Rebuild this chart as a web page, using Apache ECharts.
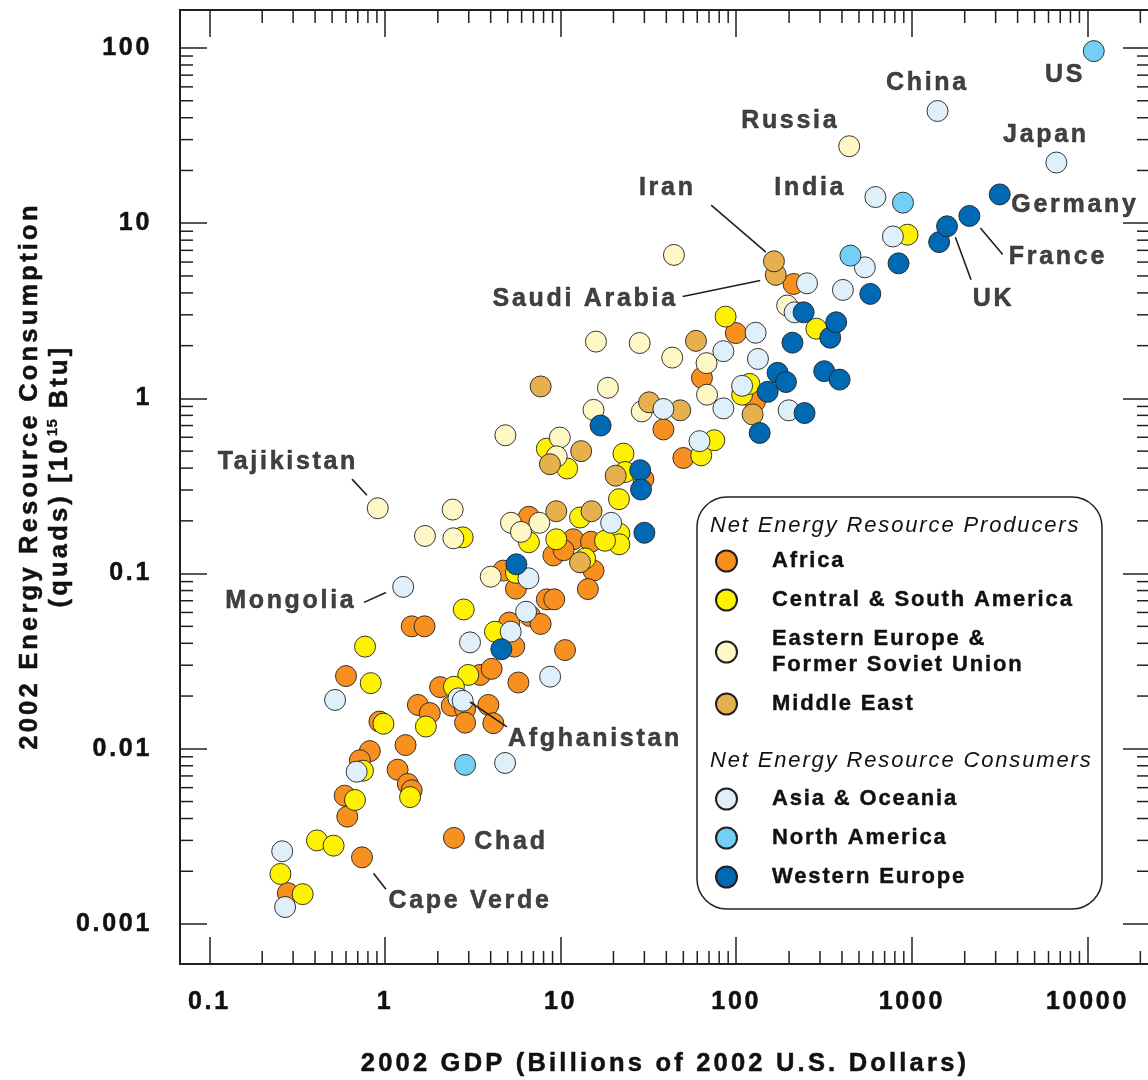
<!DOCTYPE html>
<html><head><meta charset="utf-8">
<script src="https://cdn.jsdelivr.net/npm/echarts@6/dist/echarts.min.js"></script>
<style>html,body{margin:0;padding:0;background:#fff}#c{width:1148px;height:1080px}</style>
</head><body><div id="c"></div>
<script>
// ---- letter spacing (tracking) like the reference typography ----
(function () {
  var proto = window.CanvasRenderingContext2D && CanvasRenderingContext2D.prototype;
  if (!proto || !('letterSpacing' in proto)) return;
  var d = Object.getOwnPropertyDescriptor(proto, 'font');
  if (!d) return;
  function spacing(s) { return s >= 25.4 ? 3.2 : s >= 23.5 ? 2.7 : s >= 20 ? 1.85 : 0.5; }
  Object.defineProperty(proto, 'font', {
    configurable: true, enumerable: d.enumerable,
    get: function () { return d.get.call(this); },
    set: function (v) {
      d.set.call(this, v);
      var m = /([\d.]+)px/.exec(v);
      this.letterSpacing = spacing(m ? parseFloat(m[1]) : 12) + 'px';
    }
  });
})();

// ---------------- data (GDP in billions 2002 US$, energy in quads) ----------------
const AFRICA = [[1.42,0.050],[1.68,0.050],[0.60,0.026],[2.06,0.0225],[2.40,0.0176],[2.86,0.0169],[1.54,0.0178],[1.80,0.016],[2.86,0.0141],[0.93,0.0143],[0.82,0.0097],[1.31,0.0105],[0.72,0.0086],[1.18,0.0076],[1.35,0.0063],[1.42,0.0058],[0.59,0.0054],[0.61,0.0041],[2.47,0.0031],[0.74,0.0024],[0.28,0.0015],[3.48,0.0264],[4.05,0.0286],[5.75,0.0239],[3.88,0.0178],[4.14,0.014],[10.6,0.0366],[8.35,0.0713],[9.2,0.0713],[6.7,0.0573],[7.7,0.0516],[5.1,0.0525],[5.45,0.0383],[4.72,0.104],[5.57,0.082],[6.6,0.211],[11.8,0.157],[14.9,0.152],[9.1,0.127],[10.4,0.136],[15.4,0.104],[14.3,0.0816],[29.6,0.346],[38.5,0.665],[50,0.457],[63.8,1.31],[99.5,2.36],[128,0.96],[212,4.50]];
const CSAMERICA = [[2.81,0.0624],[0.77,0.0383],[0.83,0.0237],[2.98,0.0264],[2.47,0.0226],[1.71,0.0134],[0.98,0.0139],[0.75,0.0075],[1.39,0.0053],[0.675,0.0051],[0.41,0.0030],[0.51,0.0028],[0.254,0.00193],[0.34,0.00148],[4.23,0.0466],[5.57,0.101],[6.6,0.151],[9.45,0.157],[12.9,0.209],[13.8,0.122],[21.6,0.169],[21.6,0.147],[17.9,0.154],[21.5,0.266],[22.8,0.484],[23.3,0.38],[8.35,0.517],[10.9,0.398],[63.2,0.473],[75,0.577],[108,1.05],[119,1.21],[87,2.93],[286,2.50],[945,8.6],[2.77,0.161]];
const EEFSU = [[0.91,0.236],[1.69,0.164],[2.43,0.232],[2.45,0.159],[4.85,0.616],[5.22,0.195],[7.57,0.195],[5.95,0.173],[4.0,0.096],[9.9,0.598],[9.5,0.467],[15.9,2.11],[28.2,2.07],[43.2,1.71],[67.8,1.59],[68.2,1.05],[18.6,1.15],[15.4,0.86],[29,0.843],[44.2,6.59],[440,27.5],[195,3.39]];
const MIDEAST = [[7.7,1.17],[8.7,0.421],[13.1,0.50],[9.45,0.227],[15.0,0.227],[12.9,0.116],[20.6,0.362],[31.9,0.95],[48,0.855],[59,2.13],[124,0.81],[168,5.07],[164,6.06]];
const ASIA = [[1.27,0.084],[3.05,0.0405],[0.52,0.019],[2.62,0.0194],[2.77,0.0188],[0.69,0.0074],[0.26,0.0026],[0.27,0.00125],[4.83,0.0083],[5.2,0.0466],[6.36,0.0606],[6.56,0.094],[8.72,0.0258],[19.4,0.195],[38.5,0.87],[61.8,0.57],[84.5,1.86],[84.5,0.877],[108,1.18],[133,1.68],[129,2.37],[199,0.855],[215,3.10],[253,4.54],[405,4.16],[540,5.6],[620,14.1],[780,8.4],[1400,43.7],[6650,22.2]];
const NAMERICA = [[10860,96],[890,13.1],[447,6.53],[2.86,0.0081]];
const WEUROPE = [[16.9,0.70],[28.4,0.389],[28.7,0.302],[30,0.171],[5.6,0.113],[4.6,0.037],[136,0.635],[151,1.09],[172,1.40],[192,1.24],[245,0.825],[209,2.08],[242,3.10],[317,1.43],[388,1.28],[343,2.22],[371,2.72],[580,3.95],[840,5.9],[1430,7.8],[1586,9.6],[2126,11.0],[3165,14.6]];

const GROUPS = ['Africa','Central & South America','Eastern Europe & Former Soviet Union','Middle East','Asia & Oceania','North America','Western Europe'];
const PRODUCERS = GROUPS.slice(0,4);
const CONSUMERS = GROUPS.slice(4);
const GROUP_DATA = [AFRICA, CSAMERICA, EEFSU, MIDEAST, ASIA, NAMERICA, WEUROPE];
const GROUP_COLORS = ['#F7901E','#FFF200','#FFF8C6','#E6B04D','#DFF0FB','#72D0F4','#0069B4'];

// country annotations (text centre, in data units) and leader lines
const LABEL_NAMES = ['US','China','Japan','Russia','India','Iran','Germany','France','UK','Saudi Arabia','Tajikistan','Mongolia','Afghanistan','Chad','Cape Verde'];
const LABEL_POS = [[7445,69.8],[1226,62.8],[5800,31.8],[203,38.1],[264,15.8],[40.5,15.8],[8490,12.66],[6790,6.37],[2913,3.71],[13.8,3.71],[0.280,0.432],[0.291,0.0698],[15.7,0.0114],[5.22,0.00293],[3.05,0.00135]];
const LEADERS = [
  [[72,12.7],[147.6,6.84]],
  [[49.6,3.82],[137,4.71]],
  [[1770,8.32],[2173,4.75]],
  [[2456,9.4],[3290,6.62]],
  [[0.649,0.346],[0.79,0.280]],
  [[0.76,0.0685],[1.013,0.078]],
  [[3.05,0.0185],[4.95,0.01335]],
  [[0.86,0.00195],[1.013,0.00158]]
];

// axes
const X_MIN = 0.06808, X_MAX = 22700;
const Y_MIN = 0.000591, Y_MAX = 164.8;
const X_TICK_LABELS = ['0.1','1','10','100','1000','10000'];
const Y_TICK_LABELS = ['0.001','0.01','0.1','1','10','100'];
const X_DECADES = [0.1,1,10,100,1000,10000];
const Y_DECADES = [0.001,0.01,0.1,1,10,100];
const MINOR_STEPS = [2,3,4,5,6,7,8,9];

const X_MINOR = [];
X_DECADES.forEach(d => MINOR_STEPS.forEach(k => { const v = +(d*k).toPrecision(6); if (v < X_MAX) X_MINOR.push(v); }));
const Y_MINOR = [];
Y_DECADES.forEach(d => MINOR_STEPS.forEach(k => { const v = +(d*k).toPrecision(6); if (v < Y_MAX) Y_MINOR.push(v); }));

const INK = '#231F20';
const TEXT = '#111111';
const FONT = '"Liberation Sans", Arial, Helvetica, sans-serif';

function tickFmt(list) {
  return function (v) { const s = String(Number(Number(v).toPrecision(6))); return list.indexOf(s) >= 0 ? s : ''; };
}

const chart = echarts.init(document.getElementById('c'), null, {renderer: 'canvas'});

const tickStyle = {inside: true, length: 27, lineStyle: {color: INK, width: 1.5}};
const xCommon = {type: 'log', logBase: 10, min: X_MIN, max: X_MAX, axisLine: {show: false}, splitLine: {show: false}, axisTick: tickStyle, minorTick: {show: false}};
const yCommon = {type: 'log', logBase: 10, min: Y_MIN, max: Y_MAX, axisLine: {show: false}, splitLine: {show: false}, axisTick: tickStyle, minorTick: {show: false}};
const heavy = {textBorderColor: TEXT, textBorderWidth: 0.5};
const labelText = Object.assign({color: TEXT, fontSize: 25, fontWeight: 'bold', fontFamily: FONT}, heavy);

const series = GROUPS.map((g, i) => ({
  name: g, type: 'scatter', data: GROUP_DATA[i], symbol: 'circle', symbolSize: 21,
  itemStyle: {color: GROUP_COLORS[i], borderColor: INK, borderWidth: 0.9, opacity: 1},
  emphasis: {disabled: true}, z: 2
}));

series.push({
  type: 'custom', silent: true, clip: false, z: 3, xAxisIndex: 0, yAxisIndex: 0,
  data: X_MINOR.map(v => [v, Y_MIN]),
  renderItem: function (params, api) {
    const p = api.coord([api.value(0), api.value(1)]);
    const cs = params.coordSys; const b = cs.y + cs.height, t = cs.y;
    return {type: 'group', children: [
      {type: 'line', shape: {x1: p[0], y1: b, x2: p[0], y2: b - 13}, style: {stroke: INK, lineWidth: 1.5}},
      {type: 'line', shape: {x1: p[0], y1: t, x2: p[0], y2: t + 13}, style: {stroke: INK, lineWidth: 1.5}}
    ]};
  }
});
series.push({
  type: 'custom', silent: true, clip: false, z: 3, xAxisIndex: 0, yAxisIndex: 0,
  data: Y_MINOR.map(v => [X_MIN, v]),
  renderItem: function (params, api) {
    const p = api.coord([api.value(0), api.value(1)]);
    const cs = params.coordSys; const l = cs.x, r = cs.x + cs.width;
    return {type: 'group', children: [
      {type: 'line', shape: {x1: l, y1: p[1], x2: l + 13, y2: p[1]}, style: {stroke: INK, lineWidth: 1.5}},
      {type: 'line', shape: {x1: r, y1: p[1], x2: r - 13, y2: p[1]}, style: {stroke: INK, lineWidth: 1.5}}
    ]};
  }
});
series.push({
  type: 'lines', coordinateSystem: 'cartesian2d', silent: true, z: 5,
  data: LEADERS.map(c => ({coords: c})),
  lineStyle: {color: INK, width: 1.6, opacity: 1}
});
series.push({
  type: 'scatter', silent: true, z: 6, symbolSize: 1,
  itemStyle: {color: 'rgba(0,0,0,0)'},
  data: LABEL_NAMES.map((n, i) => ({name: n, value: LABEL_POS[i]})),
  label: Object.assign({show: true, position: 'inside', formatter: '{b}'}, labelText)
});

const legendCommon = {
  orient: 'vertical', left: 715, padding: 0, itemWidth: 21, itemHeight: 21, itemGap: 13,
  icon: 'circle', selectedMode: false,
  textStyle: Object.assign({color: TEXT, fontSize: 22, fontWeight: 'bold', fontFamily: FONT, lineHeight: 26, padding: [0, 0, 0, 30]}, {textBorderColor: TEXT, textBorderWidth: 0.4}),
  formatter: function (n) { return n === 'Eastern Europe & Former Soviet Union' ? 'Eastern Europe &\nFormer Soviet Union' : n; }
};

chart.setOption({
  animation: false,
  backgroundColor: '#fff',
  grid: {left: 180, top: 10, width: 970, height: 954, show: true, borderColor: INK, borderWidth: 2, backgroundColor: 'transparent', containLabel: false, outerBoundsMode: 'none'},
  xAxis: [
    Object.assign({}, xCommon, {
      position: 'bottom',
      axisLabel: Object.assign({margin: 24, formatter: tickFmt(X_TICK_LABELS)}, labelText),
      name: '2002 GDP (Billions of 2002 U.S. Dollars)', nameLocation: 'middle', nameGap: 85, nameMoveOverlap: false,
      nameTextStyle: Object.assign({color: TEXT, fontSize: 25.5, fontWeight: 'bold', fontFamily: FONT}, heavy)
    }),
    Object.assign({}, xCommon, {position: 'top', axisLabel: {show: false}})
  ],
  yAxis: [
    Object.assign({}, yCommon, {
      position: 'left',
      axisLabel: Object.assign({margin: 28, formatter: tickFmt(Y_TICK_LABELS)}, labelText),
      name: '2002 Energy Resource Consumption\n(quads) [10{sup|15} Btu]', nameLocation: 'middle', nameRotate: 90, nameGap: 105, nameMoveOverlap: false,
      nameTextStyle: Object.assign({color: TEXT, fontSize: 25.5, fontWeight: 'bold', fontFamily: FONT, lineHeight: 30, padding: [0, 0, 0, 22],
        rich: {sup: Object.assign({color: TEXT, fontSize: 15, fontWeight: 'bold', fontFamily: FONT, verticalAlign: 'top', lineHeight: 20}, {textBorderColor: TEXT, textBorderWidth: 0.3})}}, heavy)
    }),
    Object.assign({}, yCommon, {position: 'right', axisLabel: {show: false}})
  ],
  legend: [
    Object.assign({}, legendCommon, {data: PRODUCERS, top: 548}),
    Object.assign({}, legendCommon, {data: CONSUMERS, top: 786})
  ],
  graphic: [
    {type: 'rect', z: 1, silent: true, shape: {x: 697, y: 497, width: 405, height: 412, r: 30}, style: {fill: '#fff', stroke: INK, lineWidth: 1.5}},
    {type: 'text', z: 10, silent: true, x: 710, y: 526, style: {text: 'Net Energy Resource Producers', font: 'italic 22px "Liberation Sans", Arial, sans-serif', fill: TEXT, verticalAlign: 'middle'}},
    {type: 'text', z: 10, silent: true, x: 710, y: 761, style: {text: 'Net Energy Resource Consumers', font: 'italic 22px "Liberation Sans", Arial, sans-serif', fill: TEXT, verticalAlign: 'middle'}}
  ],
  series: series
});
</script></body></html>
